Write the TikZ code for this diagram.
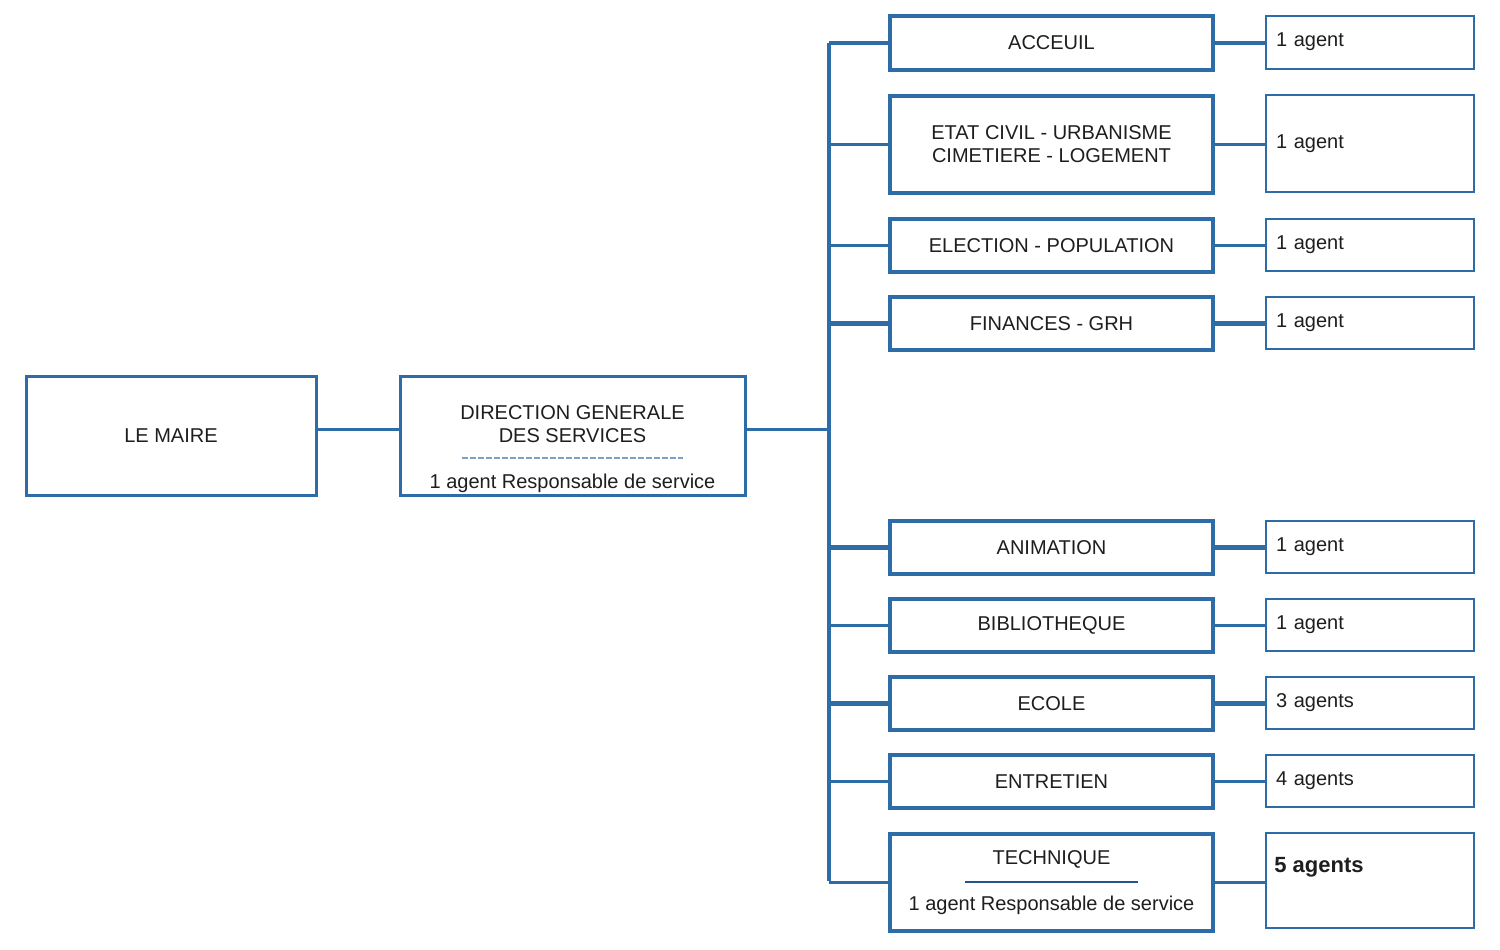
\documentclass[tikz,border=0pt]{standalone}
\usepackage{fontspec}
\setmainfont{Liberation Sans}
\definecolor{orgblue}{RGB}{46,108,168}
\definecolor{txt}{RGB}{30,30,30}
\definecolor{dashblue}{RGB}{120,160,200}
\begin{document}
\begin{tikzpicture}[x=0.5pt,y=-0.5pt,
  font=\fontsize{10}{11.5}\selectfont, text=txt,
  bigbox/.style={draw=orgblue,line width=1.5pt,fill=white,inner sep=0pt},
  midbox/.style={draw=orgblue,line width=2pt,fill=white,inner sep=0pt,minimum width=161.5pt,align=center},
  agbox/.style={draw=orgblue,line width=1pt,fill=white,inner sep=0pt,minimum width=104pt,text width=94pt,align=left},
  conn/.style={draw=orgblue,line width=1.5pt},
  thick conn/.style={draw=orgblue,line width=2.2pt}]
\useasboundingbox (0,0) rectangle (1500,949);
% left boxes
\node[bigbox,minimum width=145pt,minimum height=59.5pt] (maire) at (171,435.5) {LE MAIRE};
\node[bigbox,minimum width=172.5pt,minimum height=59.5pt] (dgs) at (572.5,435.5) {};
\node[align=center] (dgst) at (572.5,424) {DIRECTION GENERALE\\DES SERVICES};
\coordinate (dl1) at (462,458);
\coordinate (dl2) at (683,458);
\draw[dashblue,line width=0.8pt,dash pattern=on 3pt off 1pt] (dl1) -- (dl2);
\node (dgsb) at (572.5,483) {1 agent Responsable de service};
% trunk
\coordinate (ttop) at (829,43);
\coordinate (tbot) at (829,881);
\coordinate (tmid) at (829,429);
\draw[thick conn] (ttop) -- (tbot);
\draw[conn] (maire.east |- tmid) -- (dgs.west |- tmid);
\draw[conn] (dgs.east |- tmid) -- (tmid);
% middle boxes
\node[midbox,minimum height=27pt] (m1) at (1051.5,43) {ACCEUIL};
\node[midbox,minimum height=48.5pt] (m2) at (1051.5,144.5) {ETAT CIVIL - URBANISME\\CIMETIERE - LOGEMENT};
\node[midbox,minimum height=26.5pt] (m3) at (1051.5,245.5) {ELECTION - POPULATION};
\node[midbox,minimum height=26.5pt] (m4) at (1051.5,323.5) {FINANCES - GRH};
\node[midbox,minimum height=26.5pt] (m5) at (1051.5,547.5) {ANIMATION};
\node[midbox,minimum height=26.5pt] (m6) at (1051.5,625.5) {BIBLIOTHEQUE};
\node[midbox,minimum height=26.5pt] (m7) at (1051.5,703.5) {ECOLE};
\node[midbox,minimum height=26.5pt] (m8) at (1051.5,781.5) {ENTRETIEN};
\node[midbox,minimum height=48.5pt] (m9) at (1051.5,882.5) {};
\node (m9t) at (1051.5,859) {TECHNIQUE};
\coordinate (tl1) at (965,882);
\coordinate (tl2) at (1138,882);
\draw[orgblue!80!black,line width=0.7pt] (tl1) -- (tl2);
\node (m9b) at (1051.5,905) {1 agent Responsable de service};
% agent boxes
\node[agbox,minimum height=26.5pt] (a1) at (1370,42) {1 agent};
\node[agbox,minimum height=48.5pt] (a2) at (1370,143.5) {1 agent};
\node[agbox,minimum height=26pt] (a3) at (1370,245) {1 agent};
\node[agbox,minimum height=26pt] (a4) at (1370,323) {1 agent};
\node[agbox,minimum height=26pt] (a5) at (1370,547) {1 agent};
\node[agbox,minimum height=26pt] (a6) at (1370,625) {1 agent};
\node[agbox,minimum height=26pt] (a7) at (1370,703) {3 agents};
\node[agbox,minimum height=26pt] (a8) at (1370,781) {4 agents};
\node[agbox,minimum height=47.5pt] (a9) at (1370,880.5) {};
\node[anchor=west,font=\fontsize{11}{13}\selectfont\bfseries,inner sep=0pt] (a9t) at (1274,867) {5 agents};
% branches
\foreach \m/\s in {m1/thick conn,m2/conn,m3/conn,m4/thick conn,m5/thick conn,m6/conn,m7/thick conn,m8/conn,m9/conn}{
  \draw[\s] (\m.west -| ttop) -- (\m.west);
}
\foreach \m/\a/\s in {m1/a1/thick conn,m2/a2/conn,m3/a3/conn,m4/a4/thick conn,m5/a5/thick conn,m6/a6/conn,m7/a7/thick conn,m8/a8/conn,m9/a9/conn}{
  \draw[\s] (\m.east) -- (\m.east -| \a.west);
}
\end{tikzpicture}
\end{document}
